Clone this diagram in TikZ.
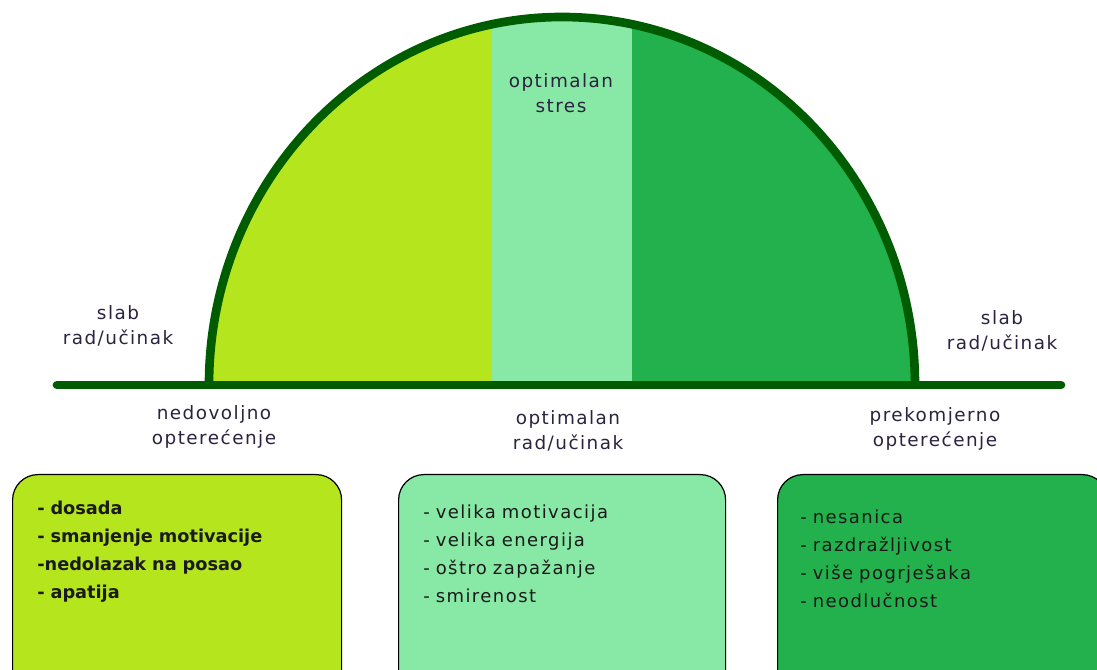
\documentclass[tikz,border=0pt]{standalone}
\usepackage{fontspec}
\setmainfont{DejaVu Sans}[LetterSpace=8]
\newfontfamily\tightfont{DejaVu Sans}
\usetikzlibrary{positioning}
\definecolor{limegreen}{HTML}{B5E61D}
\definecolor{mintgreen}{HTML}{88E8A6}
\definecolor{grassgreen}{HTML}{22B14C}
\definecolor{forestline}{HTML}{005C00}
\definecolor{inkblue}{HTML}{2B2340}
\definecolor{listink}{HTML}{1A1A1A}

\begin{document}
\begin{tikzpicture}[x=0.75pt,y=-0.75pt,
    lbl/.style={text width=150pt,align=center,anchor=base,inner sep=0pt,
        text=inkblue,font=\fontsize{13.8}{18.75}\selectfont},
    listtxt/.style={text width=220pt,align=left,anchor=base west,inner sep=0pt,
        text=listink,font=\fontsize{13.5}{21}\selectfont},
    cardbox/.style={draw=black,line width=0.9pt,rounded corners=19pt,
        minimum width=#1,minimum height=185pt,anchor=north west,inner sep=0pt},
    curveline/.style={draw=forestline,line width=6.5pt}]
\useasboundingbox (0,0) rectangle (1097,670);
\clip (0,0) rectangle (1097,670);
\coordinate (arcL) at (209,385);
\coordinate (lineL) at (57,385);
\coordinate (lineR) at (1061,385);
\begin{scope}
    \clip (arcL) arc[start angle=180,end angle=360,x radius=353,y radius=368] -- cycle;
    \fill[limegreen] (200,0) rectangle (492,390);
    \fill[mintgreen] (492,0) rectangle (632,390);
    \fill[grassgreen] (632,0) rectangle (925,390);
\end{scope}
\draw[curveline] (arcL) arc[start angle=180,end angle=360,x radius=353,y radius=368];
\draw[curveline,line cap=round] (lineL) -- (lineR);
\node[lbl] (optstress) at (561,88) {optimalan\\stres};
\node[lbl] (weakleft) at (118,320) {slab\\rad/učinak};
\node[lbl] (weakright) at (1002,325) {slab\\rad/učinak};
\node[lbl] (underload) at (214,420) {nedovoljno\\opterećenje};
\node[lbl] (optwork) at (568,425) {optimalan\\rad/učinak};
\node[lbl] (overload) at (935,422) {prekomjerno\\opterećenje};
\node[cardbox=246.75pt,fill=limegreen] (lowbox) at (12,474) {};
\node[cardbox=245.25pt,fill=mintgreen] (midbox) at (398,474) {};
\node[cardbox=247.5pt,fill=grassgreen] (highbox) at (777,474) {};
\node[listtxt,font=\tightfont\bfseries\fontsize{13.3}{21}\selectfont] (lowlist) at (37,514)
    {- dosada\\- smanjenje motivacije\\-nedolazak na posao\\- apatija};
\node[listtxt] (midlist) at (423,518)
    {- velika motivacija\\- velika energija\\- oštro zapažanje\\- smirenost};
\node[listtxt] (highlist) at (800,523)
    {- nesanica\\- razdražljivost\\- više pogrješaka\\- neodlučnost};
\end{tikzpicture}
\end{document}
